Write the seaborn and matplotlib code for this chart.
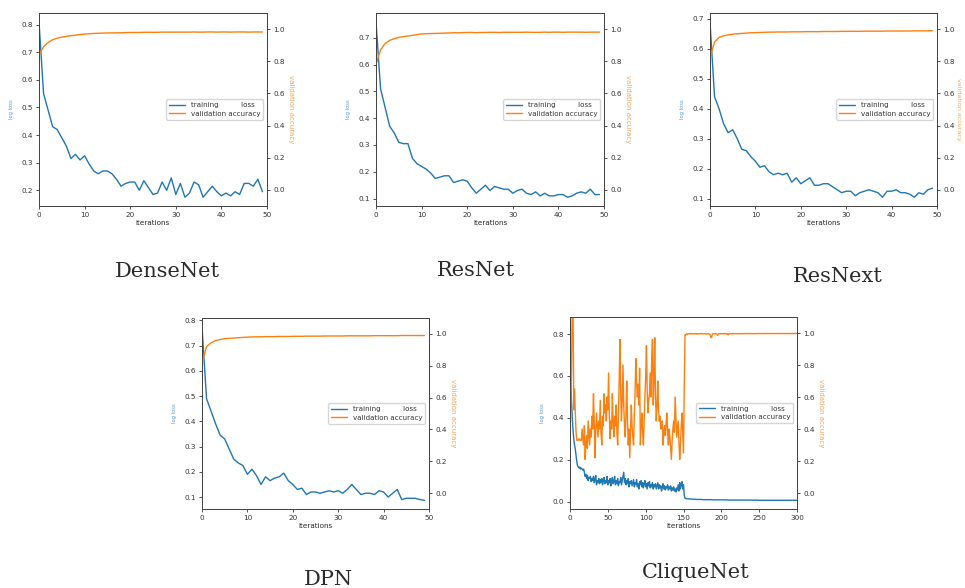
import numpy as np
import matplotlib
matplotlib.use("Agg")
import matplotlib.pyplot as plt
from matplotlib.ticker import MultipleLocator, FormatStrFormatter
import seaborn as sns

# ---------------------------------------------------------------- data
model_names = ["DenseNet", "ResNet", "ResNext", "DPN", "CliqueNet"]

densenet_loss = [0.81, 0.55, 0.49, 0.43, 0.42, 0.39, 0.36, 0.315, 0.33, 0.31,
                 0.325, 0.295, 0.27, 0.26, 0.27, 0.27, 0.26, 0.24, 0.215, 0.225,
                 0.23, 0.23, 0.20, 0.235, 0.21, 0.185, 0.19, 0.23, 0.20, 0.245,
                 0.185, 0.225, 0.175, 0.19, 0.23, 0.22, 0.175, 0.195, 0.215, 0.195,
                 0.18, 0.19, 0.18, 0.195, 0.185, 0.225, 0.225, 0.215, 0.24, 0.195]
densenet_acc = [0.84, 0.89, 0.917, 0.934, 0.943, 0.95, 0.955, 0.959, 0.962, 0.966,
                0.969, 0.971, 0.973, 0.974, 0.975, 0.976, 0.976, 0.977, 0.977, 0.978,
                0.979, 0.979, 0.979, 0.98, 0.98, 0.98, 0.98, 0.981, 0.981, 0.981,
                0.981, 0.981, 0.981, 0.981, 0.982, 0.981, 0.981, 0.982, 0.982, 0.981,
                0.982, 0.982, 0.981, 0.982, 0.982, 0.982, 0.981, 0.982, 0.982, 0.982]

resnet_loss = [0.76, 0.51, 0.44, 0.37, 0.345, 0.31, 0.305, 0.305, 0.25, 0.23,
               0.22, 0.21, 0.195, 0.175, 0.18, 0.185, 0.185, 0.16, 0.165, 0.17,
               0.165, 0.14, 0.12, 0.135, 0.15, 0.13, 0.145, 0.14, 0.135, 0.135,
               0.12, 0.13, 0.135, 0.12, 0.115, 0.125, 0.11, 0.12, 0.11, 0.11,
               0.115, 0.115, 0.105, 0.11, 0.12, 0.125, 0.12, 0.135, 0.115, 0.115]
resnet_acc = [0.78, 0.87, 0.91, 0.93, 0.94, 0.948, 0.953, 0.957, 0.961, 0.965,
              0.97, 0.971, 0.972, 0.973, 0.974, 0.975, 0.976, 0.977, 0.977, 0.978,
              0.979, 0.979, 0.978, 0.979, 0.979, 0.98, 0.98, 0.979, 0.98, 0.98,
              0.98, 0.98, 0.98, 0.981, 0.98, 0.98, 0.98, 0.981, 0.98, 0.981,
              0.981, 0.98, 0.981, 0.981, 0.981, 0.981, 0.98, 0.981, 0.981, 0.981]

resnext_loss = [0.69, 0.44, 0.40, 0.35, 0.32, 0.33, 0.30, 0.265, 0.26, 0.24,
                0.225, 0.205, 0.21, 0.19, 0.18, 0.185, 0.18, 0.185, 0.155, 0.17,
                0.15, 0.16, 0.17, 0.145, 0.145, 0.15, 0.15, 0.14, 0.13, 0.12,
                0.125, 0.125, 0.11, 0.12, 0.125, 0.13, 0.125, 0.12, 0.105, 0.125,
                0.125, 0.13, 0.12, 0.12, 0.115, 0.105, 0.12, 0.115, 0.13, 0.135]
resnext_acc = [0.82, 0.92, 0.948, 0.958, 0.964, 0.968, 0.971, 0.973, 0.975, 0.977,
               0.978, 0.979, 0.98, 0.981, 0.981, 0.982, 0.982, 0.982, 0.983, 0.983,
               0.983, 0.984, 0.984, 0.984, 0.984, 0.985, 0.985, 0.985, 0.985, 0.986,
               0.986, 0.986, 0.986, 0.986, 0.987, 0.987, 0.987, 0.987, 0.987, 0.988,
               0.988, 0.988, 0.988, 0.988, 0.988, 0.989, 0.989, 0.989, 0.989, 0.99]

dpn_loss = [0.775, 0.49, 0.44, 0.39, 0.345, 0.33, 0.29, 0.25, 0.235, 0.225,
            0.19, 0.21, 0.185, 0.15, 0.18, 0.165, 0.175, 0.18, 0.195, 0.165,
            0.15, 0.13, 0.135, 0.11, 0.12, 0.12, 0.115, 0.12, 0.125, 0.12,
            0.125, 0.115, 0.13, 0.15, 0.13, 0.11, 0.115, 0.115, 0.11, 0.125,
            0.12, 0.10, 0.115, 0.13, 0.09, 0.095, 0.095, 0.095, 0.09, 0.087]
dpn_acc = [0.82, 0.92, 0.944, 0.958, 0.965, 0.97, 0.972, 0.974, 0.976, 0.978,
           0.98, 0.981, 0.982, 0.982, 0.983, 0.983, 0.983, 0.984, 0.984, 0.984,
           0.985, 0.985, 0.985, 0.986, 0.986, 0.986, 0.986, 0.987, 0.987, 0.987,
           0.987, 0.987, 0.988, 0.988, 0.988, 0.988, 0.988, 0.988, 0.989, 0.989,
           0.989, 0.989, 0.989, 0.989, 0.99, 0.99, 0.99, 0.99, 0.99, 0.99]

cliquenet_loss = [
    0.84, 0.62, 0.48, 0.40, 0.34, 0.30, 0.27, 0.25, 0.22, 0.19,
    0.17, 0.165, 0.16, 0.165, 0.155, 0.16, 0.155, 0.15, 0.155, 0.14,
    0.12, 0.13, 0.11, 0.125, 0.10, 0.115, 0.11, 0.12, 0.095, 0.11,
    0.10, 0.12, 0.09, 0.105, 0.125, 0.08, 0.10, 0.09, 0.11, 0.085,
    0.105, 0.09, 0.11, 0.08, 0.10, 0.115, 0.085, 0.10, 0.09, 0.12,
    0.08, 0.10, 0.09, 0.11, 0.075, 0.10, 0.115, 0.085, 0.095, 0.12,
    0.08, 0.10, 0.085, 0.11, 0.075, 0.095, 0.09, 0.115, 0.08, 0.10,
    0.12, 0.14, 0.09, 0.11, 0.08, 0.10, 0.085, 0.11, 0.07, 0.095,
    0.085, 0.10, 0.075, 0.09, 0.105, 0.07, 0.09, 0.08, 0.105, 0.07,
    0.085, 0.06, 0.095, 0.08, 0.10, 0.07, 0.09, 0.065, 0.085, 0.10,
    0.07, 0.085, 0.06, 0.09, 0.075, 0.095, 0.065, 0.08, 0.07, 0.09,
    0.06, 0.08, 0.07, 0.085, 0.06, 0.075, 0.09, 0.06, 0.08, 0.065,
    0.075, 0.05, 0.07, 0.085, 0.06, 0.075, 0.055, 0.07, 0.065, 0.08,
    0.055, 0.07, 0.06, 0.075, 0.05, 0.065, 0.055, 0.07, 0.05, 0.06,
    0.045, 0.065, 0.055, 0.08, 0.05, 0.09, 0.06, 0.085, 0.095, 0.06,
    0.08, 0.03, 0.015, 0.014, 0.014, 0.013, 0.013, 0.013, 0.012, 0.012,
    0.012, 0.012, 0.011, 0.011, 0.011, 0.011, 0.011, 0.010, 0.010, 0.010,
    0.010, 0.010, 0.010, 0.010, 0.010, 0.009, 0.009, 0.009, 0.009, 0.009,
    0.009, 0.009, 0.009, 0.009, 0.009, 0.009, 0.009, 0.009, 0.008, 0.008,
    0.008, 0.008, 0.008, 0.008, 0.008, 0.008, 0.008, 0.008, 0.008, 0.008,
    0.008, 0.008, 0.008, 0.008, 0.008, 0.008, 0.008, 0.007, 0.008, 0.007,
    0.007, 0.007, 0.007, 0.007, 0.007, 0.007, 0.007, 0.007, 0.007, 0.007,
    0.007, 0.007, 0.007, 0.007, 0.007, 0.007, 0.007, 0.007, 0.007, 0.007,
    0.007, 0.007, 0.007, 0.007, 0.007, 0.007, 0.006, 0.007, 0.007, 0.007,
    0.007, 0.006, 0.007, 0.006, 0.007, 0.007, 0.006, 0.007, 0.006, 0.007,
    0.006, 0.006, 0.006, 0.006, 0.006, 0.006, 0.006, 0.006, 0.006, 0.006,
    0.006, 0.006, 0.006, 0.006, 0.006, 0.006, 0.006, 0.006, 0.006, 0.006,
    0.006, 0.006, 0.006, 0.006, 0.006, 0.006, 0.006, 0.006, 0.006, 0.006,
    0.006, 0.006, 0.006, 0.006, 0.006, 0.006, 0.006, 0.006, 0.006, 0.006,
    0.006, 0.006, 0.006, 0.006, 0.006, 0.006, 0.006, 0.006, 0.006, 0.006,
    0.006]
cliquenet_acc = [
    0.50, 0.55, 0.75, 1.20, 1.20, 0.52, 0.65, 0.50, 0.38, 0.33,
    0.33, 0.33, 0.34, 0.33, 0.33, 0.33, 0.40, 0.33, 0.30, 0.42,
    0.21, 0.30, 0.36, 0.28, 0.45, 0.38, 0.30, 0.40, 0.35, 0.48,
    0.40, 0.62, 0.45, 0.22, 0.38, 0.50, 0.42, 0.35, 0.45, 0.40,
    0.58, 0.38, 0.30, 0.48, 0.42, 0.62, 0.50, 0.55, 0.45, 0.60,
    0.52, 0.75, 0.48, 0.34, 0.45, 0.40, 0.62, 0.45, 0.35, 0.48,
    0.42, 0.55, 0.38, 0.30, 0.50, 0.70, 0.96, 0.62, 0.45, 0.58,
    0.80, 0.55, 0.42, 0.35, 0.50, 0.70, 0.45, 0.30, 0.40, 0.22,
    0.38, 0.55, 0.42, 0.35, 0.30, 0.48, 0.62, 0.84, 0.70, 0.60,
    0.68, 0.55, 0.78, 0.30, 0.42, 0.50, 0.38, 0.30, 0.45, 0.60,
    0.72, 0.92, 0.65, 0.50, 0.58, 0.62, 0.75, 0.60, 0.85, 0.96,
    0.55, 0.70, 0.97, 0.60, 0.45, 0.55, 0.70, 0.52, 0.45, 0.48,
    0.40, 0.42, 0.45, 0.30, 0.38, 0.42, 0.36, 0.44, 0.50, 0.38,
    0.30, 0.40, 0.35, 0.28, 0.21, 0.33, 0.40, 0.45, 0.38, 0.60,
    0.48, 0.35, 0.40, 0.45, 0.32, 0.21, 0.30, 0.42, 0.50, 0.38,
    0.25, 0.65, 0.99, 0.99, 0.995, 0.993, 0.996, 0.994, 0.995, 0.997,
    0.994, 0.996, 0.995, 0.996, 0.994, 0.995, 0.997, 0.993, 0.996, 0.995,
    0.994, 0.996, 0.995, 0.997, 0.995, 0.996, 0.994, 0.995, 0.996, 0.995,
    0.993, 0.995, 0.996, 0.995, 0.994, 0.99, 0.975, 0.97, 0.99, 0.996,
    0.995, 0.994, 0.996, 0.995, 0.993, 0.985, 0.994, 0.996, 0.995, 0.996,
    0.994, 0.995, 0.996, 0.995, 0.997, 0.995, 0.996, 0.994, 0.995, 0.988,
    0.994, 0.996, 0.995, 0.996, 0.995, 0.997, 0.996, 0.995, 0.996, 0.997,
    0.995, 0.996, 0.996, 0.995, 0.997, 0.996, 0.995, 0.996, 0.997, 0.996,
    0.995, 0.997, 0.996, 0.996, 0.997, 0.995, 0.996, 0.997, 0.996, 0.996,
    0.997, 0.996, 0.995, 0.997, 0.996, 0.996, 0.997, 0.996, 0.997, 0.996,
    0.996, 0.997, 0.996, 0.997, 0.996, 0.996, 0.997, 0.996, 0.997, 0.997,
    0.996, 0.997, 0.996, 0.997, 0.997, 0.996, 0.997, 0.996, 0.997, 0.997,
    0.996, 0.997, 0.997, 0.996, 0.997, 0.997, 0.996, 0.997, 0.997, 0.996,
    0.997, 0.997, 0.996, 0.997, 0.997, 0.997, 0.996, 0.997, 0.997, 0.997,
    0.996, 0.997, 0.997, 0.997, 0.997, 0.996, 0.997, 0.997, 0.997, 0.997,
    0.997]

loss_series = [densenet_loss, resnet_loss, resnext_loss, dpn_loss, cliquenet_loss]
acc_series = [densenet_acc, resnet_acc, resnext_acc, dpn_acc, cliquenet_acc]
x_limits = [50, 50, 50, 50, 300]
x_tick_steps = [10, 10, 10, 10, 50]
loss_tick_steps = [0.1, 0.1, 0.1, 0.1, 0.2]
acc_ticks = [0.0, 0.2, 0.4, 0.6, 0.8, 1.0]

# ---------------------------------------------------------------- style
sns.set_theme(style="ticks", rc={
    "axes.linewidth": 0.6,
    "axes.edgecolor": "0.25",
    "xtick.major.width": 0.6,
    "ytick.major.width": 0.6,
    "xtick.major.size": 2.5,
    "ytick.major.size": 2.5,
    "xtick.major.pad": 2,
    "ytick.major.pad": 2,
    "xtick.labelsize": 5.2,
    "ytick.labelsize": 5.2,
    "text.color": "0.2",
    "xtick.color": "0.2",
    "ytick.color": "0.2",
})
plt.rcParams["font.family"] = ["DejaVu Sans"]

BLUE = "#1f77b4"
ORANGE = "#ff7f0e"
W, H = 965, 588

fig = plt.figure(figsize=(W / 100, H / 100), dpi=100)
fig.patch.set_facecolor("white")

# panel boxes in pixels: left, right, top, bottom
boxes = [(39, 267, 13, 206), (376, 604, 13, 206), (710, 937, 13, 206),
         (202, 429, 318, 509), (570, 797, 317, 509)]
# accuracy label size and gap; the last column sits against the figure
# edge, so its label is a touch smaller and pulled in
acc_label_sizes = [5.0, 5.0, 4.6, 5.0, 5.0]
acc_label_pads = [7, 7, 4.5, 7, 7]
# caption anchors in pixels: centre x, baseline y
captions = [(167, 277), (476, 276), (838, 282), (328, 585), (696, 578)]


def draw_panel(box, loss, acc, xmax, xstep, lstep, acc_size, acc_pad):
    l, r, t, b = box
    ax = fig.add_axes([l / W, 1 - b / H, (r - l) / W, (b - t) / H])
    ax2 = ax.twinx()
    sns.lineplot(x=np.arange(len(loss)), y=loss, ax=ax, color=BLUE,
                 linewidth=1.0, legend=False)
    sns.lineplot(x=np.arange(len(acc)), y=acc, ax=ax2, color=ORANGE,
                 linewidth=1.0, legend=False)
    ax.set_xlim(0, xmax)
    ax.xaxis.set_major_locator(MultipleLocator(xstep))
    ax.yaxis.set_major_locator(MultipleLocator(lstep))
    ax.yaxis.set_major_formatter(FormatStrFormatter("%.1f"))
    ax2.set_ylim(-0.1, 1.1)
    ax2.set_yticks(acc_ticks)
    ax2.yaxis.set_major_formatter(FormatStrFormatter("%.1f"))
    ax.set_xlabel("iterations", fontsize=5.2, labelpad=1.5)
    ax.set_ylabel("log loss", fontsize=3.8, color="#5b9bd5", labelpad=5)
    ax2.set_ylabel("validation accuracy", fontsize=acc_size, color="#f9a55a",
                   rotation=270, labelpad=acc_pad)
    for s in ax2.spines.values():
        s.set_linewidth(0.6)
        s.set_edgecolor("0.25")
    handles = [ax.get_lines()[0], ax2.get_lines()[0]]
    ax2.legend(handles, ["training          loss", "validation accuracy"],
               loc="center right", fontsize=5.1, handlelength=2.3,
               frameon=True, framealpha=0.8, edgecolor="0.8",
               borderaxespad=0.5, labelspacing=0.35)
    return ax


for i, name in enumerate(model_names):
    draw_panel(boxes[i], loss_series[i], acc_series[i], x_limits[i],
               x_tick_steps[i], loss_tick_steps[i],
               acc_label_sizes[i], acc_label_pads[i])
    cx, cy = captions[i]
    fig.text(cx / W, 1 - cy / H, name, ha="center", va="baseline",
             fontsize=15, family="DejaVu Serif", color="#2b2b2b")

fig.savefig("out.png", dpi=100, facecolor="white")
